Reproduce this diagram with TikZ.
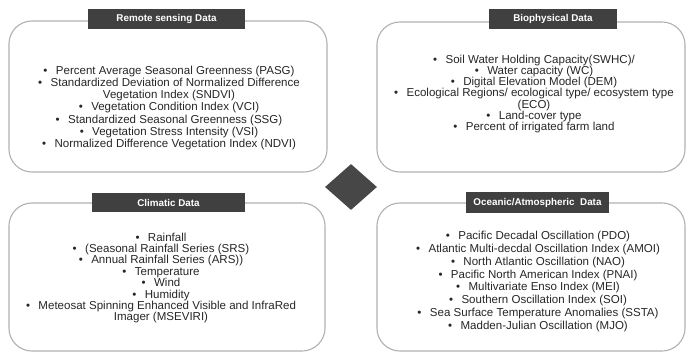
\documentclass[tikz,border=0pt]{standalone}
\usepackage{fontspec}
\setmainfont{Liberation Sans}
\usepackage{xcolor}
\usepackage{tikz}
\usetikzlibrary{positioning}
\usetikzlibrary{shapes.geometric}

\newcommand{\itm}[1]{\textbullet\hspace{6pt}#1}

\begin{document}
\begin{tikzpicture}
 [x=0.025cm, y=-0.025cm,
  databox/.style={rectangle, rounded corners=0.575cm, draw=black!30, line width=0.8pt, fill=white},
  tab/.style={rectangle, fill=black!75, text=white, inner sep=0pt,
              font=\fontsize{7}{8}\selectfont\bfseries},
  items/.style={align=center, text=black!85, inner sep=0pt,
                font=\fontsize{8.2}{#1}\selectfont},
  marker/.style={diamond, fill=black!72, inner sep=0pt,
                 minimum width=1.3cm, minimum height=1.15cm}]
 \useasboundingbox (0,0) rectangle (687,353);

 \node[databox, minimum width=7.95cm, minimum height=3.775cm] (rsbox)   at (168,96.5) {};
 \node[databox, minimum width=7.7cm,  minimum height=3.75cm]  (biobox)  at (531,97)   {};
 \node[databox, minimum width=7.9cm,  minimum height=3.7cm]   (climbox) at (167,277)  {};
 \node[databox, minimum width=7.7cm,  minimum height=3.7cm]   (oceanbox) at (531,277) {};

 \node[tab, minimum width=3.925cm, minimum height=0.5cm]   (rstitle)    at (166.5,19)  {Remote sensing Data};
 \node[tab, minimum width=3.2cm,   minimum height=0.5cm]   (biotitle)   at (553,19)    {Biophysical Data};
 \node[tab, minimum width=3.825cm, minimum height=0.475cm] (climtitle)  at (168.5,202.5) {Climatic Data};
 \node[tab, minimum width=3.575cm, minimum height=0.525cm] (oceantitle) at (537.5,202.5) {Oceanic/Atmospheric\ \ Data};

 \node[marker] (centre) at (351,187) {};

 \node[items=8.65pt] (rslist) at (169,108)
  {
   \itm{Percent Average Seasonal Greenness (PASG)}\\
   \itm{Standardized Deviation of Normalized Difference}\\
   Vegetation Index (SNDVI)\\
   \itm{Vegetation Condition Index (VCI)}\\
   \itm{Standardized Seasonal Greenness (SSG)}\\
   \itm{Vegetation Stress Intensity (VSI)}\\
   \itm{Normalized Difference Vegetation Index (NDVI)}
  };
 \node[items=7.9pt] (biolist) at (534,94)
  {
   \itm{Soil Water Holding Capacity(SWHC)/}\\
   \itm{Water capacity (WC)}\\
   \itm{Digital Elevation Model (DEM)}\\
   \itm{Ecological Regions/ ecological type/ ecosystem type}\\
   (ECO)\\
   \itm{Land-cover type}\\
   \itm{Percent of irrigated farm land}
  };
 \node[items=8.1pt] (climlist) at (161,278)
  {
   \itm{Rainfall}\\
   \itm{(Seasonal Rainfall Series (SRS)}\\
   \itm{Annual Rainfall Series (ARS))}\\
   \itm{Temperature}\\
   \itm{Wind}\\
   \itm{Humidity}\\
   \itm{Meteosat Spinning Enhanced Visible and InfraRed}\\
   Imager (MSEVIRI)
  };
 \node[items=9.1pt] (oceanlist) at (538,281.5)
  {
   \itm{Pacific Decadal Oscillation (PDO)}\\
   \itm{Atlantic Multi-decdal Oscillation Index (AMOI)}\\
   \itm{North Atlantic Oscillation (NAO)}\\
   \itm{Pacific North American Index (PNAI)}\\
   \itm{Multivariate Enso Index (MEI)}\\
   \itm{Southern Oscillation Index (SOI)}\\
   \itm{Sea Surface Temperature Anomalies (SSTA)}\\
   \itm{Madden-Julian Oscillation (MJO)}
  };
\end{tikzpicture}
\end{document}
